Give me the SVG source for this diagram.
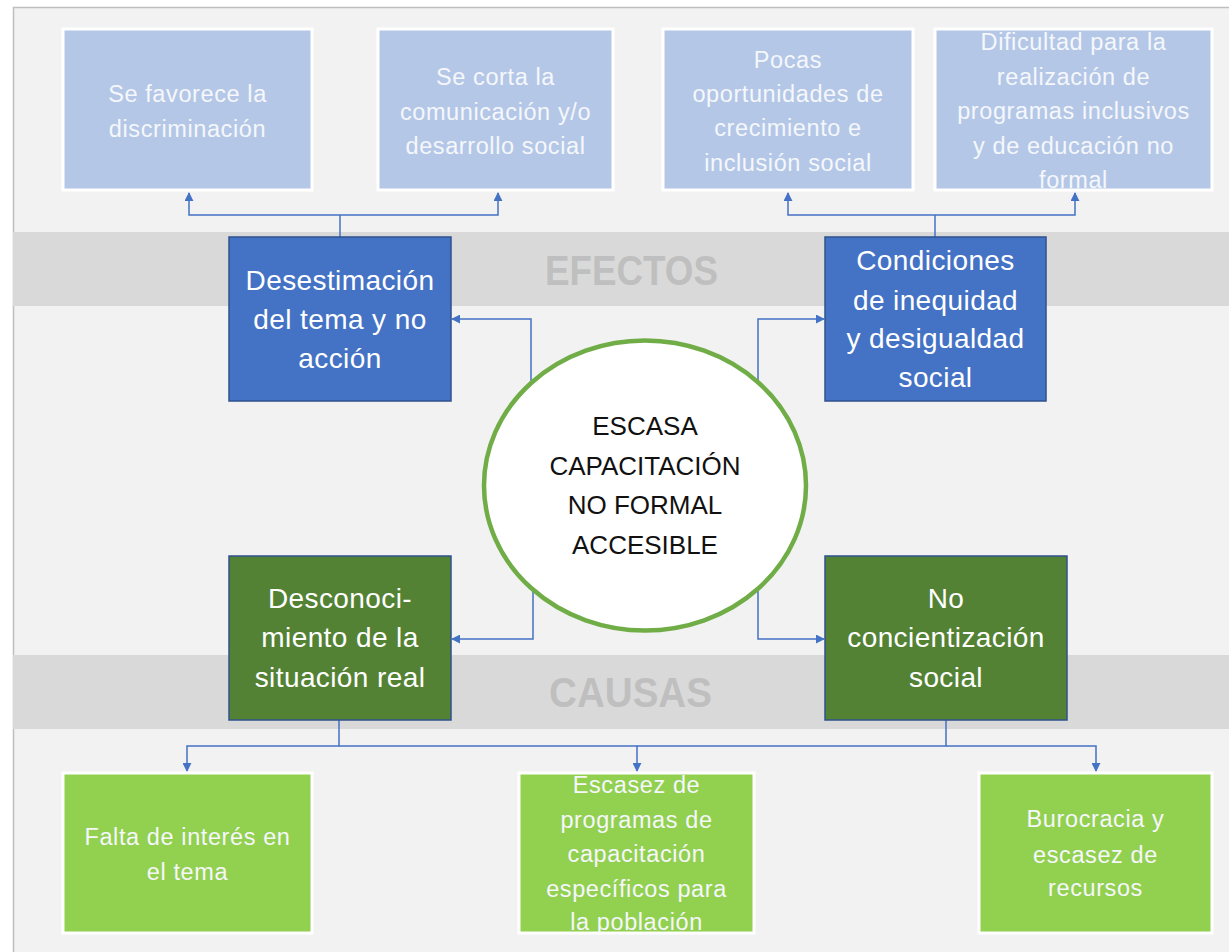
<svg xmlns="http://www.w3.org/2000/svg" width="1229" height="952" viewBox="0 0 1229 952">
<defs>
<style>
.frame{fill:#f2f2f2;stroke:#bfbfbf;stroke-width:1.5}
.band{fill:#d9d9d9}
.band-label{font-family:"Liberation Sans",Arial,sans-serif;font-weight:bold;font-size:42px;fill:#bfbfbf;text-anchor:middle}
.effect{fill:#b4c7e7;stroke:#ffffff;stroke-width:3}
.cause{fill:#92d050;stroke:#ffffff;stroke-width:3}
.blue{fill:#4472c4;stroke:#2f528f;stroke-width:1.5}
.green{fill:#548235;stroke:#2f528f;stroke-width:1.5}
.lt{font-family:"Liberation Sans",Arial,sans-serif;font-size:23.5px;letter-spacing:0.6px;fill:#f5f7fb;text-anchor:middle}
.bt{font-family:"Liberation Sans",Arial,sans-serif;font-size:28px;letter-spacing:0.4px;fill:#ffffff;text-anchor:middle}
.ct{font-family:"Liberation Sans",Arial,sans-serif;font-size:26px;fill:#111111;text-anchor:middle}
.conn{fill:none;stroke:#4472c4;stroke-width:1.5}
</style>
<marker id="arr" viewBox="0 0 10 10" refX="9" refY="5" markerWidth="9" markerHeight="9" markerUnits="userSpaceOnUse" orient="auto">
<path d="M0,0 L10,5 L0,10 Z" fill="#4472c4"/>
</marker>
<clipPath id="clipEsc"><rect x="519" y="773" width="235" height="160"/></clipPath>
</defs>

<rect class="frame" x="13.5" y="7.5" width="1230" height="960"/>
<g id="band-efectos">
<rect class="band" x="13" y="232" width="1216" height="74"/>
<text class="band-label" x="631.5" y="285" textLength="173" lengthAdjust="spacingAndGlyphs">EFECTOS</text>
</g>
<g id="band-causas">
<rect class="band" x="13" y="655" width="1216" height="74"/>
<text class="band-label" x="630.5" y="707" textLength="163" lengthAdjust="spacingAndGlyphs">CAUSAS</text>
</g>

<g id="connectors">
<path class="conn" d="M340,237 V215"/>
<path class="conn" d="M340,215 H189 V193" marker-end="url(#arr)"/>
<path class="conn" d="M340,215 H498 V193" marker-end="url(#arr)"/>
<path class="conn" d="M935,237 V215"/>
<path class="conn" d="M935,215 H788 V193" marker-end="url(#arr)"/>
<path class="conn" d="M935,215 H1075 V193" marker-end="url(#arr)"/>
<path class="conn" d="M531,400 V319 H452" marker-end="url(#arr)"/>
<path class="conn" d="M758,400 V319 H824" marker-end="url(#arr)"/>
<path class="conn" d="M533,570 V639 H452" marker-end="url(#arr)"/>
<path class="conn" d="M758,570 V639 H824" marker-end="url(#arr)"/>
<path class="conn" d="M339,720 V746 H187 V771" marker-end="url(#arr)"/>
<path class="conn" d="M339,746 H637 V771" marker-end="url(#arr)"/>
<path class="conn" d="M946,720 V746 H637"/>
<path class="conn" d="M946,746 H1096 V771" marker-end="url(#arr)"/>
</g>

<g id="effect-1">
<rect class="effect" x="63" y="29" width="249" height="161"/>
<text class="lt" x="187.5" y="102">Se favorece la</text>
<text class="lt" x="187.5" y="137">discriminación</text>
</g>
<g id="effect-2">
<rect class="effect" x="378" y="29" width="235" height="161"/>
<text class="lt" x="495.5" y="85">Se corta la</text>
<text class="lt" x="495.5" y="120">comunicación y/o</text>
<text class="lt" x="495.5" y="154">desarrollo social</text>
</g>
<g id="effect-3">
<rect class="effect" x="663" y="29" width="250" height="161"/>
<text class="lt" x="788" y="68">Pocas</text>
<text class="lt" x="788" y="102">oportunidades de</text>
<text class="lt" x="788" y="136">crecimiento e</text>
<text class="lt" x="788" y="171">inclusión social</text>
</g>
<g id="effect-4">
<rect class="effect" x="935" y="29" width="277" height="161"/>
<text class="lt" x="1073.5" y="50">Dificultad para la</text>
<text class="lt" x="1073.5" y="85">realización de</text>
<text class="lt" x="1073.5" y="119">programas inclusivos</text>
<text class="lt" x="1073.5" y="154">y de educación no</text>
<text class="lt" x="1073.5" y="188">formal</text>
</g>

<g id="desestimacion">
<rect class="blue" x="229" y="237" width="222" height="164"/>
<text class="bt" x="340" y="290">Desestimación</text>
<text class="bt" x="340" y="329">del tema y no</text>
<text class="bt" x="340" y="368">acción</text>
</g>
<g id="condiciones">
<rect class="blue" x="825" y="237" width="221" height="164"/>
<text class="bt" x="935.5" y="270">Condiciones</text>
<text class="bt" x="935.5" y="310">de inequidad</text>
<text class="bt" x="935.5" y="348">y desigualdad</text>
<text class="bt" x="935.5" y="387">social</text>
</g>

<g id="problema-central">
<ellipse cx="645" cy="485.5" rx="161" ry="145" fill="#ffffff" stroke="#70ad47" stroke-width="4.5"/>
<text class="ct" x="645" y="435">ESCASA</text>
<text class="ct" x="645" y="475">CAPACITACIÓN</text>
<text class="ct" x="645" y="514">NO FORMAL</text>
<text class="ct" x="645" y="554">ACCESIBLE</text>
</g>

<g id="desconocimiento">
<rect class="green" x="229" y="556" width="222" height="164"/>
<text class="bt" x="340" y="608">Desconoci-</text>
<text class="bt" x="340" y="647">miento de la</text>
<text class="bt" x="340" y="687">situación real</text>
</g>
<g id="no-concientizacion">
<rect class="green" x="825" y="556" width="242" height="164"/>
<text class="bt" x="946" y="608">No</text>
<text class="bt" x="946" y="647">concientización</text>
<text class="bt" x="946" y="687">social</text>
</g>

<g id="cause-1">
<rect class="cause" x="63" y="773" width="249" height="160"/>
<text class="lt" x="187.5" y="845">Falta de interés en</text>
<text class="lt" x="187.5" y="880">el tema</text>
</g>
<g id="cause-2">
<rect class="cause" x="519" y="773" width="235" height="160"/>
<g clip-path="url(#clipEsc)">
<text class="lt" x="636.5" y="793">Escasez de</text>
<text class="lt" x="636.5" y="828">programas de</text>
<text class="lt" x="636.5" y="862">capacitación</text>
<text class="lt" x="636.5" y="897">específicos para</text>
<text class="lt" x="636.5" y="930">la población</text>
</g>
</g>
<g id="cause-3">
<rect class="cause" x="979" y="773" width="233" height="160"/>
<text class="lt" x="1095.5" y="827">Burocracia y</text>
<text class="lt" x="1095.5" y="863">escasez de</text>
<text class="lt" x="1095.5" y="896">recursos</text>
</g>
</svg>
